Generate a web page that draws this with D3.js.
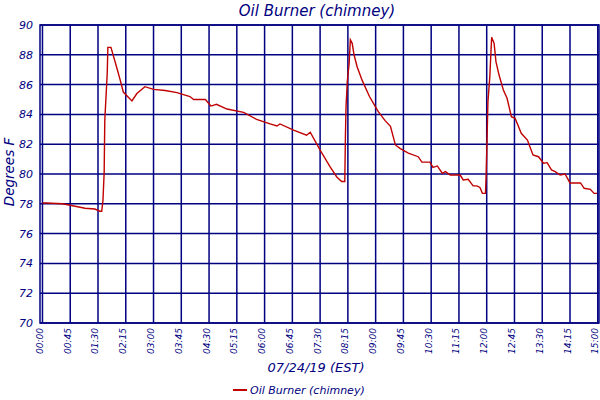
<!DOCTYPE html>
<html>
<head>
<meta charset="utf-8">
<script src="https://cdn.jsdelivr.net/npm/d3@7"></script>
<style>
  body { margin: 0; background: #fff; }
  svg text { font-family: "DejaVu Sans", sans-serif; font-style: italic; fill: #000080; }
</style>
</head>
<body>
<svg id="chart" width="600" height="400"></svg>
<script>
// Chart data
const times = [
  '00:00','00:07','00:32','00:45','01:09','01:25','01:33','01:36','01:38','01:40',
  '01:41','01:45','01:46','01:51','02:00','02:06','02:11','02:25','02:33','02:46',
  '03:00','03:19','03:38','03:59','04:05','04:24','04:33','04:42','04:59','05:26',
  '05:47','06:09','06:20','06:25','06:47','07:08','07:14','07:30','07:46','07:57',
  '08:05','08:10','08:11','08:12','08:14','08:17','08:19','08:22','08:25','08:30',
  '08:38','08:50','09:04','09:15','09:24','09:32','09:40','09:53','10:09','10:15',
  '10:28','10:33','10:40','10:48','10:53','11:01','11:17','11:22','11:30','11:38',
  '11:44','11:49','11:53','11:58','11:59','12:00','12:02','12:05','12:07','12:08',
  '12:12','12:15','12:20','12:27','12:33','12:40','12:46','12:56','13:06','13:15',
  '13:24','13:32','13:38','13:45','13:51','13:59','14:07','14:15','14:32','14:38',
  '14:48','14:54','14:59'
];
const temps = [
  78.05, 78.05, 78.0, 77.9, 77.7, 77.65, 77.5, 77.5, 78.2, 80.1,
  83.6, 86.8, 88.5, 88.5, 87.2, 86.3, 85.5, 84.9, 85.4, 85.86,
  85.68, 85.6, 85.46, 85.2, 85.0, 85.0, 84.56, 84.68, 84.36, 84.14,
  83.67, 83.36, 83.22, 83.36, 82.95, 82.6, 82.8, 81.6, 80.5, 79.8,
  79.5, 79.5, 82.5, 84.5, 86.2, 87.4, 89.0, 88.77, 88.0, 87.2,
  86.3, 85.2, 84.2, 83.6, 83.2, 81.95, 81.7, 81.4, 81.16, 80.8,
  80.8, 80.45, 80.54, 80.05, 80.16, 79.93, 79.93, 79.6, 79.64, 79.2,
  79.2, 79.1, 78.7, 78.7, 79.8, 81.4, 84.85, 86.5, 88.3, 89.17,
  88.77, 87.54, 86.64, 85.64, 85.08, 83.85, 83.74, 82.73, 82.28, 81.28,
  81.16, 80.72, 80.76, 80.27, 80.16, 79.93, 80.0, 79.4, 79.4, 79.04,
  78.97, 78.7, 78.7
];
const xTicks = ['00:00','00:45','01:30','02:15','03:00','03:45','04:30','05:15','06:00','06:45',
  '07:30','08:15','09:00','09:45','10:30','11:15','12:00','12:45','13:30','14:15','15:00'];
const yTicks = [70, 72, 74, 76, 78, 80, 82, 84, 86, 88, 90];

const title = 'Oil Burner (chimney)';
const xTitle = '07/24/19 (EST)';
const yTitle = 'Degrees F';

const navy = '#000080';
const red = '#c00000';

function toMin(s) {
  const p = s.split(':');
  return +p[0] * 60 + +p[1];
}

const svg = d3.select('#chart');
const plotLeft = 40, plotRight = 599, plotTop = 25, plotBottom = 323;

const x = d3.scaleLinear().domain([-4, 902]).range([plotLeft, plotRight]);
const y = d3.scaleLinear().domain([70, 90]).range([plotBottom, plotTop]);

// grid
const grid = svg.append('g');
yTicks.forEach(t => {
  grid.append('line')
    .attr('x1', plotLeft).attr('x2', plotRight)
    .attr('y1', y(t)).attr('y2', y(t))
    .attr('stroke', navy).attr('stroke-width', 1.5);
});
xTicks.forEach(t => {
  grid.append('line')
    .attr('x1', x(toMin(t))).attr('x2', x(toMin(t)))
    .attr('y1', plotTop).attr('y2', plotBottom)
    .attr('stroke', navy).attr('stroke-width', 1.5);
});
// frame
svg.append('rect')
  .attr('x', plotLeft).attr('y', plotTop)
  .attr('width', plotRight - plotLeft).attr('height', plotBottom - plotTop)
  .attr('fill', 'none').attr('stroke', navy).attr('stroke-width', 1.5);

// y tick labels
svg.append('g').selectAll('text')
  .data(yTicks)
  .enter().append('text')
  .attr('x', 33)
  .attr('y', d => y(d) + 4)
  .attr('text-anchor', 'end')
  .attr('font-size', '11px')
  .text(d => d);

// x tick labels (rotated)
svg.append('g').selectAll('text')
  .data(xTicks)
  .enter().append('text')
  .attr('transform', d => `translate(${x(toMin(d)) + 0.5},${plotBottom + 5}) rotate(-90)`)
  .attr('text-anchor', 'end')
  .attr('font-size', '9px')
  .text(d => d);

// the data line
const line = d3.line()
  .x((d, i) => x(toMin(times[i])))
  .y(d => y(d));

svg.append('path')
  .datum(temps)
  .attr('d', line)
  .attr('fill', 'none')
  .attr('stroke', red)
  .attr('stroke-width', 1.4);

// titles
svg.append('text')
  .attr('x', 317).attr('y', 16)
  .attr('text-anchor', 'middle')
  .attr('font-size', '15px')
  .text(title);

svg.append('text')
  .attr('x', 316).attr('y', 372)
  .attr('text-anchor', 'middle')
  .attr('font-size', '13px')
  .text(xTitle);

svg.append('text')
  .attr('transform', 'translate(14,172) rotate(-90)')
  .attr('text-anchor', 'middle')
  .attr('font-size', '13.5px')
  .text(yTitle);

// legend
svg.append('line')
  .attr('x1', 233).attr('x2', 247)
  .attr('y1', 390).attr('y2', 390)
  .attr('stroke', red).attr('stroke-width', 2);
svg.append('text')
  .attr('x', 250).attr('y', 394)
  .attr('font-size', '11px')
  .text(title);
</script>
</body>
</html>
